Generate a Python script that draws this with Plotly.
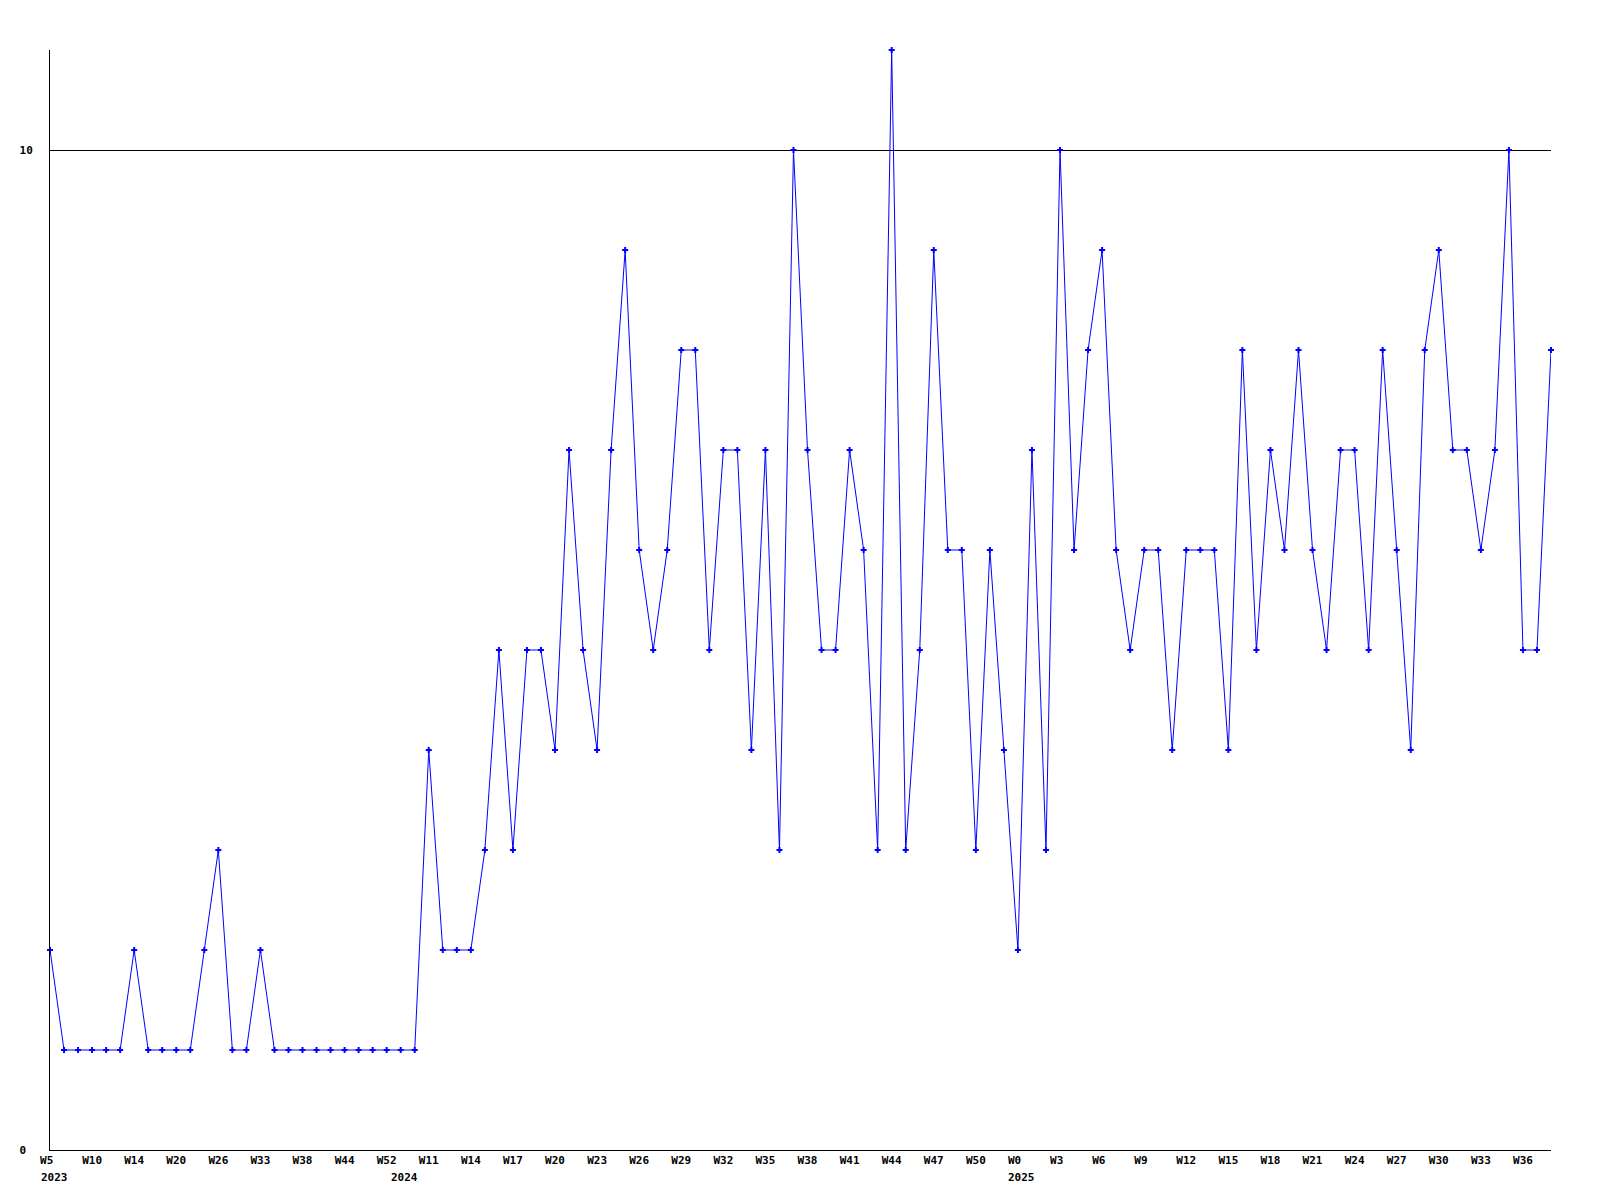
import plotly.graph_objects as go

# ---- data ----
values = [2, 1, 1, 1, 1, 1, 2, 1, 1, 1,
          1, 2, 3, 1, 1, 2, 1, 1, 1, 1,
          1, 1, 1, 1, 1, 1, 1, 4, 2, 2,
          2, 3, 5, 3, 5, 5, 4, 7, 5, 4,
          7, 9, 6, 5, 6, 8, 8, 5, 7, 7,
          4, 7, 3, 10, 7, 5, 5, 7, 6, 3,
          11, 3, 5, 9, 6, 6, 3, 6, 4, 2,
          7, 3, 10, 6, 8, 9, 6, 5, 6, 6,
          4, 6, 6, 6, 4, 8, 5, 7, 6, 8,
          6, 5, 7, 7, 5, 8, 6, 4, 8, 9,
          7, 7, 6, 7, 10, 5, 5, 8]
week_labels = ["W5", "W10", "W14", "W20", "W26", "W33", "W38", "W44", "W52",
               "W11", "W14", "W17", "W20", "W23", "W26", "W29", "W32", "W35",
               "W38", "W41", "W44", "W47", "W50",
               "W0", "W3", "W6", "W9", "W12", "W15", "W18", "W21", "W24",
               "W27", "W30", "W33", "W36"]
label_step = 3
year_labels = ["2023", "2024", "2025"]
year_start_index = [0, 25, 69]
y_ticks = [0, 10]

x = list(range(len(values)))
tickvals = [i * label_step for i in range(len(week_labels))]
# pad two-character labels so they line up left like the original
ticktext = [t if len(t) >= 3 else t + "\u00a0" for t in week_labels]

FONT = dict(family="DejaVu Sans Mono", size=11, color="black")

fig = go.Figure()
fig.add_trace(go.Scatter(
    x=x, y=values, mode="lines+markers",
    line=dict(color="#0000ff", width=1),
    marker=dict(symbol="cross", size=5, color="#0000ff"),
    cliponaxis=False, showlegend=False,
))

for yl, idx in zip(year_labels, year_start_index):
    fig.add_annotation(
        x=idx, y=0, xref="x", yref="paper", text="<b>%s</b>" % yl,
        showarrow=False, xanchor="left", yanchor="top",
        xshift=-11.5, yshift=-19, font=FONT,
    )

fig.update_layout(
    width=1592, height=1192,
    margin=dict(l=42, r=49, t=42, b=50),
    paper_bgcolor="white", plot_bgcolor="white",
    font=FONT,
    xaxis=dict(
        range=[0, len(values) - 1], tickmode="array",
        tickvals=tickvals, ticktext=["<b>%s</b>" % t for t in ticktext],
        showgrid=False, zeroline=False, showline=True,
        linecolor="black", linewidth=1, ticks="", tickfont=FONT,
    ),
    yaxis=dict(
        range=[0, 11], tickmode="array", tickvals=y_ticks,
        ticktext=["<b>0\u00a0</b>", "<b>10</b>"],
        showgrid=True, gridcolor="black", gridwidth=1,
        zeroline=False, showline=True, linecolor="black", linewidth=1,
        ticks="", tickfont=FONT, ticklabelstandoff=14,
    ),
)

fig.write_html("out.html")
